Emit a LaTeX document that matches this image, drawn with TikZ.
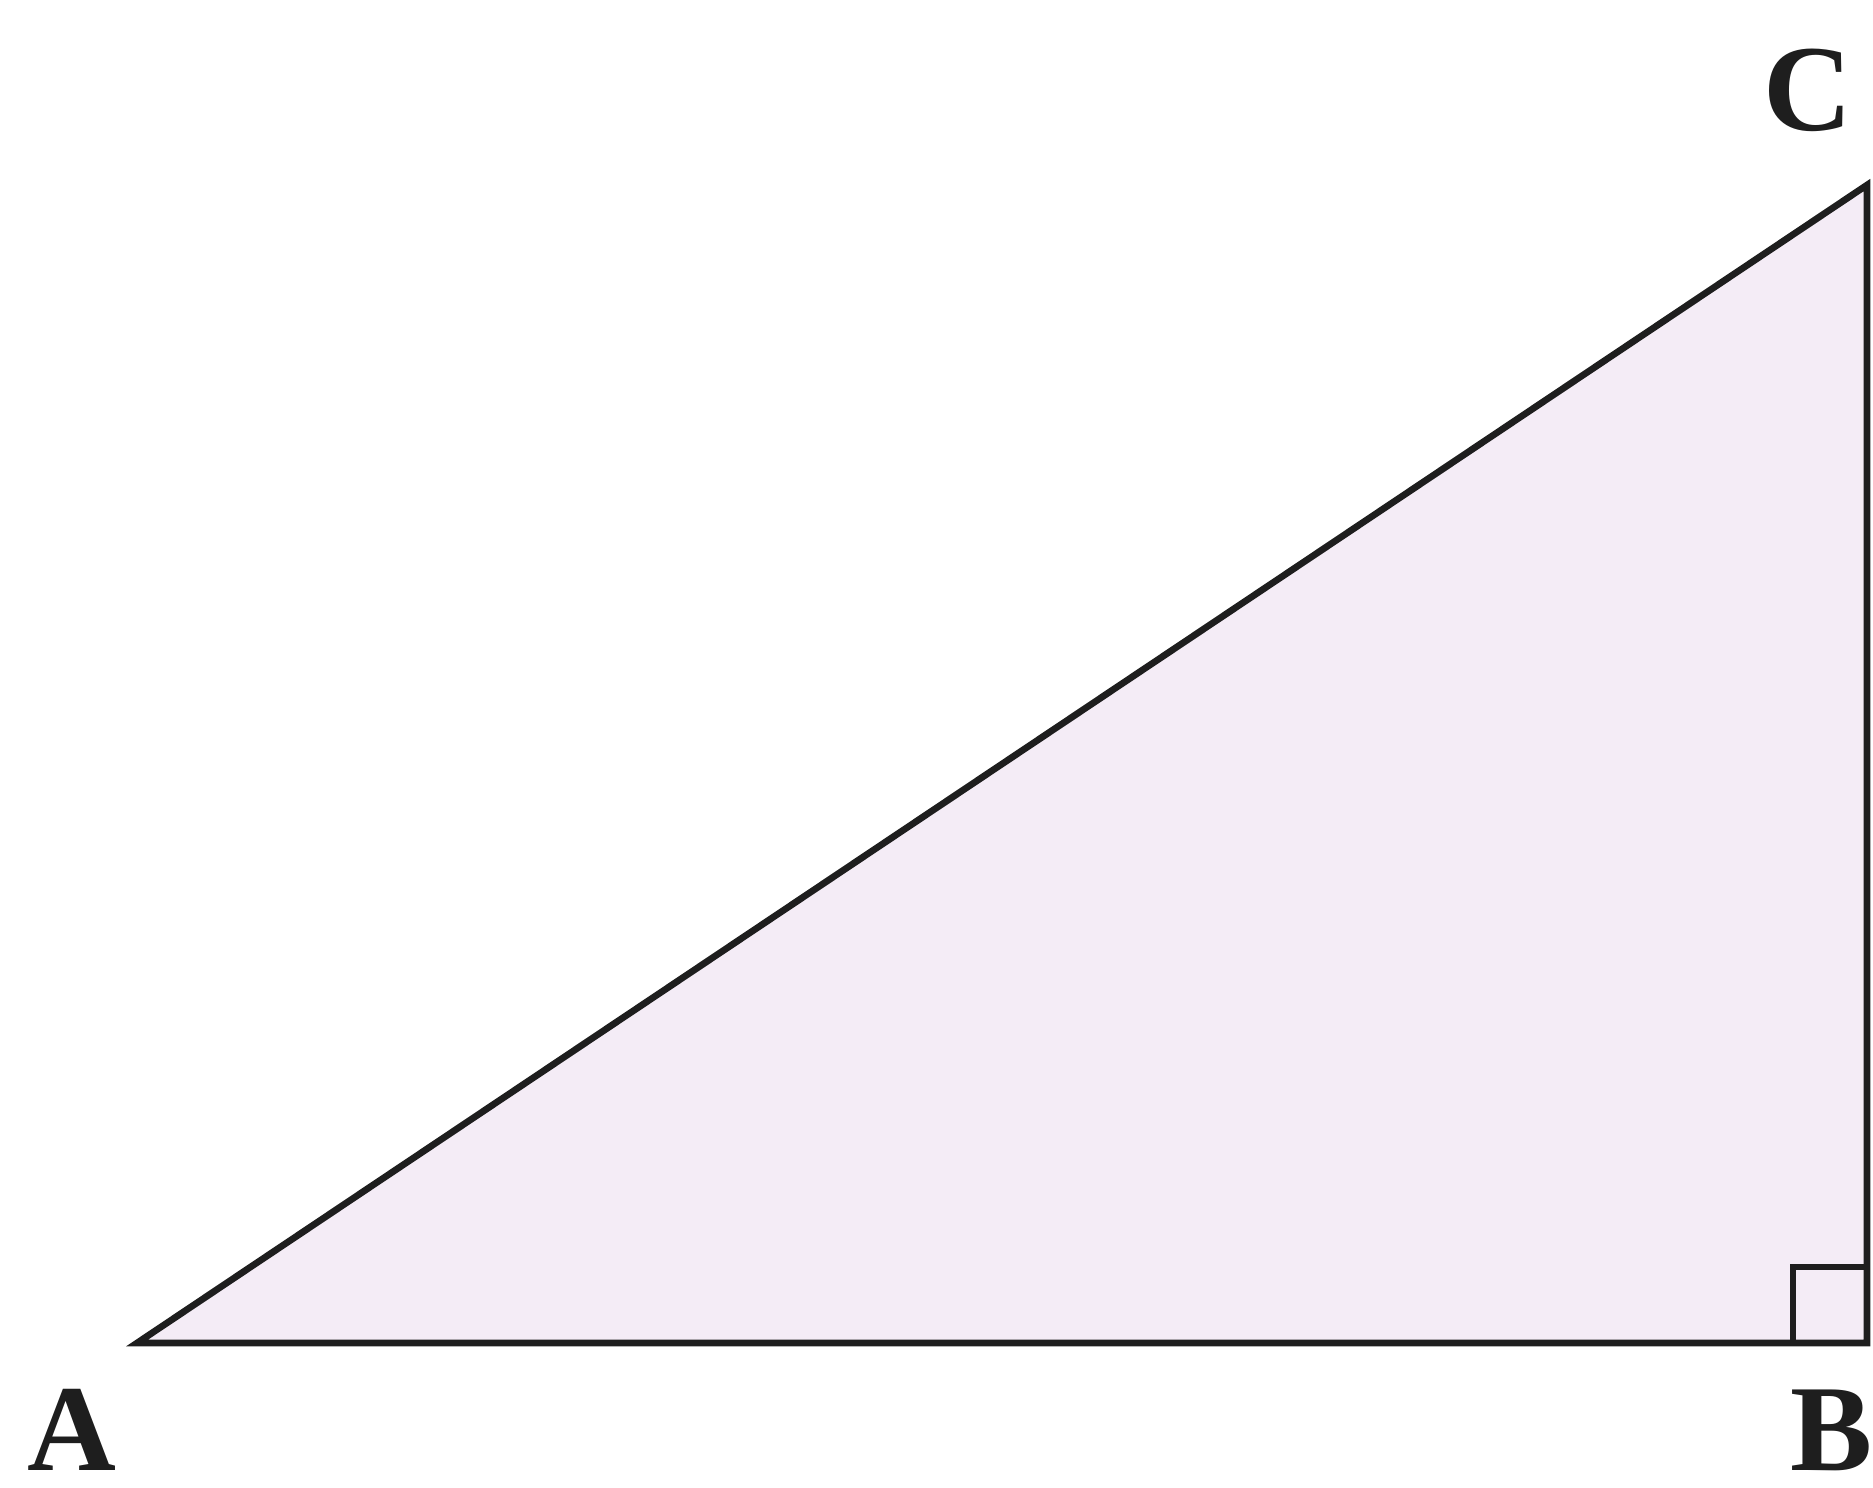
\documentclass[tikz,border=0pt]{standalone}
\usepackage{fontspec}
\setmainfont{Liberation Serif}
\definecolor{trifill}{RGB}{244,236,246}
\definecolor{inkline}{RGB}{30,30,30}
\begin{document}
\begin{tikzpicture}[x=0.01cm,y=-0.01cm,
  edge/.style={draw=inkline,line width=1.9pt,line join=miter},
  vlabel/.style={font=\fontsize{35}{38}\selectfont\bfseries,text=inkline,inner sep=0pt}]
\useasboundingbox (0,0) rectangle (1873,1487);
\coordinate (A) at (137,1343);
\coordinate (B) at (1867,1343);
\coordinate (C) at (1867,185);
\fill[trifill] (A) -- (B) -- (C) -- cycle;
\draw[edge] (A) -- (B) -- (C) -- cycle;
\draw[edge] (1867,1267) -- (1793,1267) -- (1793,1343);
\node[vlabel] (lc) at (1808,90) {C};
\node[vlabel] (la) at (72,1430) {A};
\node[vlabel] (lb) at (1832,1430) {B};
\end{tikzpicture}
\end{document}
